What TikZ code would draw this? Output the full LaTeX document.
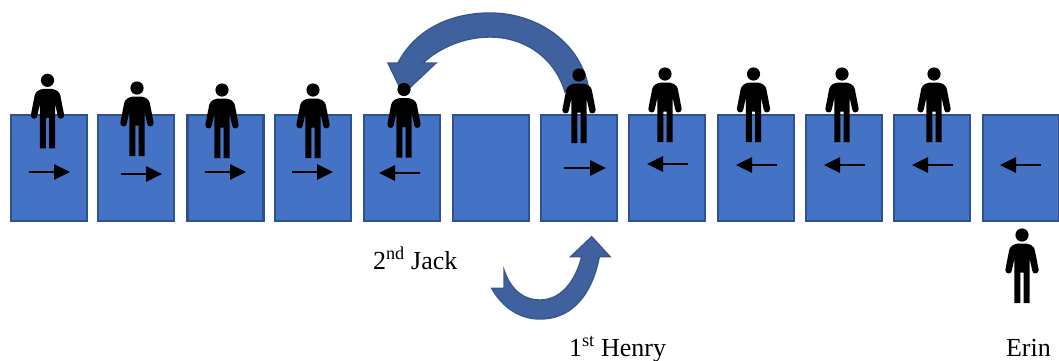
\documentclass[tikz,border=0pt]{standalone}
\usepackage{fontspec}
\setmainfont{Liberation Serif}
\usetikzlibrary{arrows.meta}
\definecolor{boxfill}{HTML}{4472C4}
\definecolor{boxline}{HTML}{2F528F}
\definecolor{bentfill}{HTML}{3F629F}
\definecolor{bentline}{HTML}{37588F}
\tikzset{
  x=1pt,y=-1pt,
  seat/.style={draw=boxline,fill=boxfill,line width=2.2pt,minimum width=76pt,minimum height=106pt,inner sep=0pt,outer sep=0pt},
  dirarrow/.style={black,line width=1.2pt,-{Triangle[length=16pt,width=15.5pt]}},
  bent/.style={draw=bentline,fill=bentfill,line width=1.4pt,line join=miter},
  lbl/.style={inner sep=0pt,outer sep=0pt,anchor=base west,font=\fontsize{26}{30}\selectfont},
  person/.pic={
    \fill[black] (0,0) circle (6.6);
    \fill[black]
      (-7.7,68) -- (-7.7,24) -- (-10.2,35.5)
      .. controls (-10.6,39.5) and (-16.4,39.5) .. (-16.7,35)
      -- (-12.8,15) .. controls (-12,11) and (-8,9.2) .. (-4.5,8.6)
      -- (4.5,8.6) .. controls (8,9.2) and (12,11) .. (12.8,15)
      -- (16.7,35) .. controls (16.4,39.5) and (10.6,39.5) .. (10.2,35.5)
      -- (7.7,24) -- (7.7,68) -- (1.7,68) -- (1.7,37.5) -- (-1.7,37.5) -- (-1.7,68) -- cycle;
  }
}
\begin{document}
\begin{tikzpicture}
\useasboundingbox (0,0) rectangle (1059,360);
% seats
\foreach \n/\cx in {1/49,2/136,3/225.5,4/313,5/402,6/491,7/579,8/667,9/756,10/844,11/932,12/1021}
  \node[seat] (seat\n) at (\cx,168) {};
% upper bent arrow
\draw[bent] (588,85) .. controls (578,40) and (535,13) .. (490,13)
  .. controls (450,13) and (415,30) .. (398,63)
  -- (388,63) -- (403,94) -- (436,63) -- (423,63)
  .. controls (440,47) and (465,37) .. (490,37)
  .. controls (525,37) and (555,58) .. (565,92) -- cycle;
% lower bent arrow
\draw[bent] (491.7,288.3) .. controls (503,308) and (520,319) .. (540,319)
  .. controls (575,319) and (593,290) .. (599.3,256.7)
  -- (610,256.7) -- (591.7,236.7) -- (570.7,256.7) -- (581.7,256.7)
  .. controls (575,283) and (560,300) .. (540,300)
  .. controls (522,300) and (510,288) .. (504,270)
  -- (504,288.3) -- cycle;
% direction arrows
\foreach \n/\xa/\xb/\yy in {1/29/70/172,2/121/162/174,3/205/246/172,4/292/333/172,5/420/379/173,7/564/606/168,8/688/647/164,9/777/736/165,10/865/824/165,11/953/912/165,12/1041/1000/165}{
  \coordinate (from\n) at (\xa,\yy);
  \coordinate (to\n) at (\xb,\yy);
  \draw[dirarrow] (from\n) -- (to\n);
}
% people
\foreach \xx/\yy in {47.5/80.3,137/88,222/90,313/90,404/89.5,579/75,665/74,753.5/74,842/74,934/74,1022/235}
  \pic at (\xx,\yy) {person};
% labels
\node[lbl] (jack) at (373,269) {2\textsuperscript{nd} Jack};
\node[lbl] (henry) at (569,356) {1\textsuperscript{st} Henry};
\node[lbl] (erin) at (1006,356) {Erin};
\end{tikzpicture}
\end{document}
